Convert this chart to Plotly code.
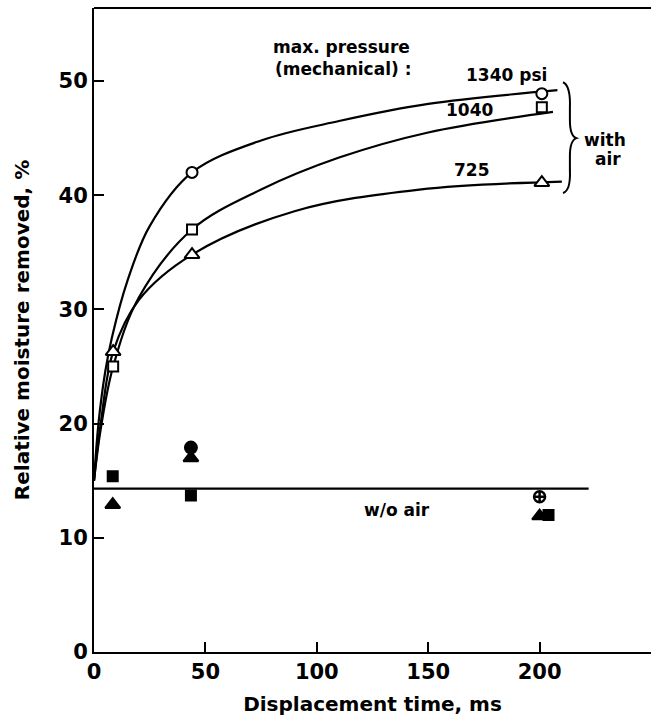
import plotly.graph_objects as go

# --- curves ---
c1340_x = [0, 2, 5, 8, 15, 25, 44, 75, 110, 150, 208]
c1340_y = [15, 20, 24.5, 27.5, 32.5, 37.3, 42, 44.8, 46.5, 48, 49.2]
c1040_x = [0, 3, 8.6, 20, 44, 75, 110, 150, 206]
c1040_y = [15, 19.5, 25, 31, 37, 40.5, 43.3, 45.5, 47.3]
c725_x = [0, 3, 8.6, 20, 44, 90, 146, 210]
c725_y = [15, 20, 26.3, 30.8, 34.8, 38.6, 40.5, 41.2]

# --- measured points with air (open markers) ---
circ_x = [44, 201]
circ_y = [42, 48.9]
sq_x = [8.6, 44, 201]
sq_y = [25, 37, 47.7]
tri_x = [8.6, 44, 201]
tri_y = [26.3, 34.8, 41.1]

# --- measured points without air (filled markers) ---
fsq_x = [8.4, 43.5, 204]
fsq_y = [15.4, 13.7, 12.0]
ftri_x = [8.4, 43.5, 200]
ftri_y = [12.9, 17.0, 11.9]
fcirc_x = [43.5]
fcirc_y = [17.9]
xcirc_x = [200]
xcirc_y = [13.6]

woair_x = [0, 222]
woair_y = [14.3, 14.3]

FONT = "DejaVu Sans"

fig = go.Figure()
for xs, ys in [(c1340_x, c1340_y), (c1040_x, c1040_y), (c725_x, c725_y)]:
    fig.add_trace(go.Scatter(x=xs, y=ys, mode="lines",
                             line=dict(color="black", width=2.2, shape="spline", smoothing=1.0),
                             hoverinfo="skip"))
fig.add_trace(go.Scatter(x=woair_x, y=woair_y, mode="lines",
                         line=dict(color="black", width=2.2)))

def mk(xs, ys, sym, fill, size=11, width=2):
    fig.add_trace(go.Scatter(x=xs, y=ys, mode="markers",
                             marker=dict(symbol=sym, size=size, color=fill,
                                         line=dict(color="black", width=width))))

mk(circ_x, circ_y, "circle", "white")
mk(sq_x, sq_y, "square", "white", size=10)
mk(tri_x, tri_y, "triangle-up", "white", size=13)
mk(fsq_x, fsq_y, "square", "black", size=10)
mk(ftri_x, ftri_y, "triangle-up", "black", size=13)
mk(fcirc_x, fcirc_y, "circle", "black", size=12)
mk(xcirc_x, xcirc_y, "circle-cross", "white", size=11, width=2.5)

# brace
fig.add_shape(type="path",
              path="M 210.5,49.9 Q 214,49.6 213.6,47.6 L 213.6,46.6 Q 213.6,45.2 216.5,45 "
                   "Q 213.6,44.8 213.6,43.4 L 213.6,42.2 Q 214,40.4 210.5,40.2",
              line=dict(color="black", width=2), xref="x", yref="y")

# top border
fig.add_shape(type="line", x0=0, x1=1, y0=1, y1=1, xref="paper", yref="paper",
              line=dict(color="black", width=2))

afont = dict(family=FONT, size=17, color="black", weight="bold")
anns = [
    ("max. pressure", 111, 53.0, "center"),
    ("(mechanical) :", 111.6, 51.1, "center"),
    ("1340 psi", 185, 50.5, "center"),
    ("1040", 168.6, 47.5, "center"),
    ("725", 169.5, 42.2, "center"),
    ("with", 229.5, 44.8, "center"),
    ("air", 230.5, 43.2, "center"),
    ("w/o air", 136, 12.4, "center"),
]
for t, x, y, al in anns:
    fig.add_annotation(text=t, x=x, y=y, xref="x", yref="y", showarrow=False,
                       font=afont, xanchor=al, yanchor="middle")

tfont = dict(family=FONT, size=21, color="black", weight="bold")
fig.update_layout(
    width=651, height=726, autosize=False,
    margin=dict(l=94, r=0, t=8, b=74),
    paper_bgcolor="white", plot_bgcolor="white",
    showlegend=False,
    xaxis=dict(range=[0, 250], tickvals=[0, 50, 100, 150, 200], ticks="inside", ticklen=10,
               tickwidth=2, tickcolor="black", showline=True, linewidth=2, linecolor="black",
               showgrid=False, zeroline=False, tickfont=tfont, automargin=False,
               title=dict(text="Displacement time, ms", font=dict(family=FONT, size=20, color="black", weight="bold"),
                          standoff=14)),
    yaxis=dict(range=[0, 56.4], tickvals=[0, 10, 20, 30, 40, 50], ticks="inside", ticklen=10,
               tickwidth=2, tickcolor="black", showline=True, linewidth=2, linecolor="black",
               showgrid=False, zeroline=False, tickfont=tfont, automargin=False,
               title=dict(text="Relative moisture removed, %", font=dict(family=FONT, size=20, color="black", weight="bold"),
                          standoff=24)),
)
post = ("document.body.style.margin='0';document.body.style.overflow='hidden';"
        "Plotly.relayout('{plot_id}', {width: 651, height: 726});")
fig.write_html("out.html", post_script=post,
               config={"responsive": False, "displayModeBar": False, "staticPlot": True})
